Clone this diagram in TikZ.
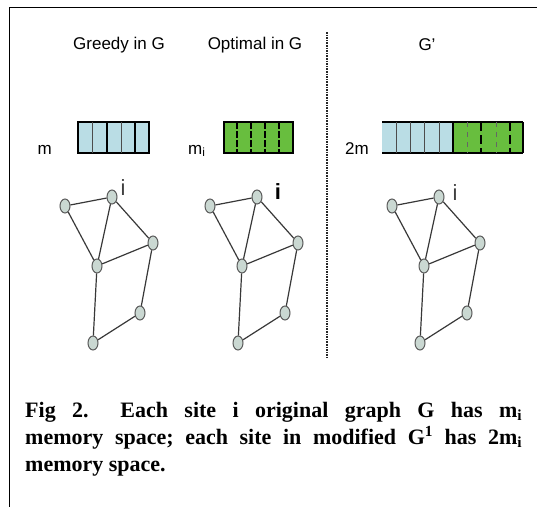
\documentclass[tikz,border=0pt]{standalone}
\usepackage{fontspec}
\setmainfont{Liberation Serif}
\newfontfamily\labelfont{Liberation Sans}
\usetikzlibrary{shapes.geometric, positioning, calc}
\definecolor{memblue}{RGB}{186,221,229}
\definecolor{memgreen}{RGB}{104,190,62}
\definecolor{sitegray}{RGB}{202,216,210}
\tikzset{
    site/.style={ % one site of the graph
        ellipse, draw=black!65, fill=sitegray,
        line width=1pt, inner sep=0pt,
        minimum width=10pt, minimum height=14pt
    },
    link/.style={draw=black!78, line width=1.2pt},
    heading/.style={font=\labelfont\fontsize{17}{20}\selectfont, text=black},
    memlabel/.style={font=\labelfont\fontsize{17}{20}\selectfont, text=black, inner sep=0pt},
    sitelabel/.style={font=\labelfont\fontsize{22}{24}\selectfont, inner sep=0pt},
    membar/.style={draw=black, line width=1.3pt},
    separator/.style={draw=black!85, line width=1.6pt, densely dotted},
    caption/.style={font=\bfseries\fontsize{22}{26}\selectfont\frenchspacing, inner sep=0pt, anchor=base west},
}

\begin{document}
\begin{tikzpicture}[x=1pt, y=-1pt]
    \useasboundingbox (0,0) rectangle (537,507);
    \draw[line width=1pt] (537,7) -- (9,7) -- (9,507);

    % headings
    \node[heading] (greedy)  at (119,45) {Greedy in G};
    \node[heading] (optimal) at (255,45) {Optimal in G};
    \node[heading] (gprime)  at (427,45) {G\textquoteright};

    \coordinate (septop) at (327,32);
    \coordinate (sepbot) at (327,358);
    \draw[separator] (septop) -- (sepbot);

    % memory of each site
    \filldraw[membar, fill=memblue] (78,122) rectangle (149,153);
    \draw[black!70, line width=0.7pt] (92,122) -- (92,153) (121,122) -- (121,153);
    \draw[black, line width=1.1pt] (107,122) -- (107,153) (135,122) -- (135,153);
    \node[memlabel, anchor=base east] (mgr) at (52,154) {m};

    \filldraw[membar, fill=memgreen] (224,122) rectangle (293,153);
    \foreach \x in {237,251,265,279}
        \draw[black, line width=1.2pt, dash pattern=on 7pt off 2pt] (\x,122) -- (\x,153);
    \node[memlabel, anchor=base west] (mop) at (188,154) {m\textsubscript{i}};

    \fill[memblue] (382,122) rectangle (453,153);
    \fill[memgreen] (453,122) rectangle (523,153);
    \draw[membar] (382,122) -- (523,122) (382,153) -- (523,153) (523,122) -- (523,153);
    \foreach \x in {396,410,424,439}
        \draw[black!70, line width=0.7pt] (\x,122) -- (\x,153);
    \draw[black, line width=1.1pt] (453,122) -- (453,153);
    \foreach \x in {481,510}
        \draw[black, line width=1.6pt, dash pattern=on 9pt off 4pt] (\x,122) -- (\x,153);
    \foreach \x in {467,496}
        \draw[black!60, line width=0.7pt, dash pattern=on 5pt off 5pt] (\x,122) -- (\x,153);
    \node[memlabel, anchor=base west] (mgp) at (345,154) {2m};

    % the same graph three times
    \foreach \g/\dx in {gr/0, op/145, gp/327}{
        \begin{scope}[xshift=\dx]
            \node[site] (\g-a) at (65,206)  {};
            \node[site] (\g-b) at (112,197) {};
            \node[site] (\g-c) at (153,243) {};
            \node[site] (\g-d) at (97,266)  {};
            \node[site] (\g-e) at (140,313) {};
            \node[site] (\g-f) at (93,343)  {};
        \end{scope}
        \draw[link] (\g-a) -- (\g-b)
                    (\g-a) -- (\g-d)
                    (\g-b) -- (\g-d)
                    (\g-b) -- (\g-c)
                    (\g-d) -- (\g-c)
                    (\g-c) -- (\g-e)
                    (\g-d) -- (\g-f)
                    (\g-f) -- (\g-e);
    }
    \node[sitelabel, text=black!75] (igr) at (123,188) {i};
    \node[sitelabel, font=\labelfont\bfseries\fontsize{22}{24}\selectfont] (iop) at (278,192) {i};
    \node[sitelabel, text=black!75] (igp) at (455,193) {i};

    % caption
    \node[caption] (cap1) at (25,417)
        {\makebox[497pt][s]{Fig 2. \hspace{0.7em}Each site i original graph G has m\textsubscript{i}}};
    \node[caption] (cap2) at (25,444)
        {\makebox[497pt][s]{memory space; each site in modified G\textsuperscript{1} has 2m\textsubscript{i}}};
    \node[caption] (cap3) at (25,471) {memory space.};
\end{tikzpicture}
\end{document}
